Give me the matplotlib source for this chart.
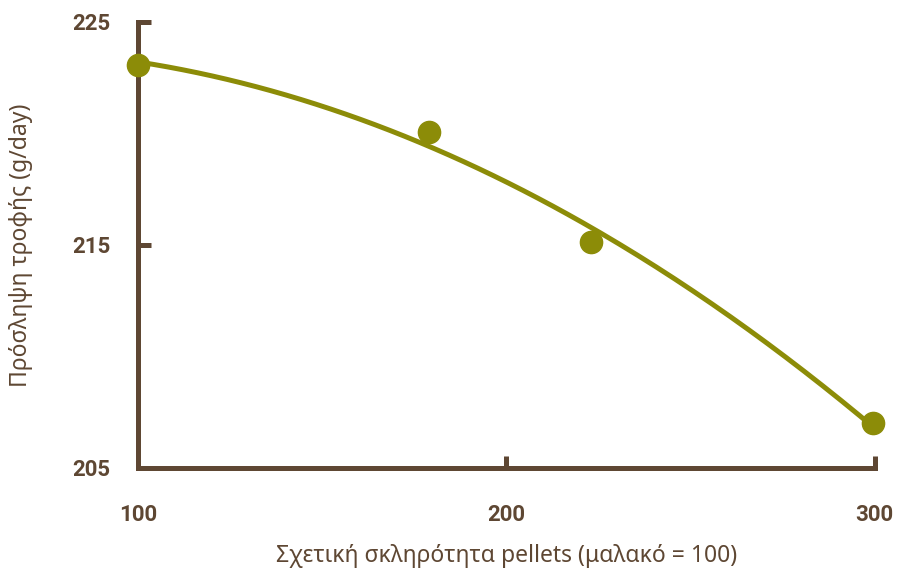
import numpy as np
import matplotlib.pyplot as plt

# data
sklirotita = [100, 179, 223, 299.5]
proslipsi = [223.07, 220.07, 215.13, 207.0]
x_ticks = [100, 200, 300]
y_ticks = [205, 215, 225]

brown = '#5e4733'
olive = '#8c8c08'

# quadratic trend line through the points
coef = np.polyfit(sklirotita, proslipsi, 2)
xx = np.linspace(100, 300, 200)
yy = np.polyval(coef, xx)

fig = plt.figure(figsize=(8.99, 5.74), dpi=100)
ax = fig.add_axes([0.1535, 0.1847, 0.8195, 0.777])

ax.plot(xx, yy, color=olive, lw=3.6, solid_capstyle='round', zorder=2)
ax.plot(sklirotita, proslipsi, 'o', color=olive, markersize=16, zorder=3, clip_on=False)

ax.set_xlim(100, 300)
ax.set_ylim(205, 225)
ax.set_xticks(x_ticks)
ax.set_yticks(y_ticks)

for s in ['top', 'right']:
    ax.spines[s].set_visible(False)
for s in ['left', 'bottom']:
    ax.spines[s].set_color(brown)
    ax.spines[s].set_linewidth(3.6)
    ax.spines[s].set_capstyle('projecting')

ax.tick_params(direction='in', length=9, width=3.6, color=brown, labelcolor=brown)
ax.tick_params(axis='x', pad=26)
ax.tick_params(axis='y', pad=20)
for lab in ax.get_xticklabels() + ax.get_yticklabels():
    lab.set_fontfamily('Roboto')
    lab.set_fontweight('bold')
    lab.set_fontsize(16)

ax.set_xlabel('Σχετική σκληρότητα pellets (μαλακό = 100)', fontsize=16.5,
              color=brown, family='Noto Sans', fontweight='medium', labelpad=13)
ax.set_ylabel('Πρόσληψη τροφής (g/day)', fontsize=16.5,
              color=brown, family='Noto Sans', fontweight='medium', labelpad=28)

fig.savefig('out.png', dpi=100)
